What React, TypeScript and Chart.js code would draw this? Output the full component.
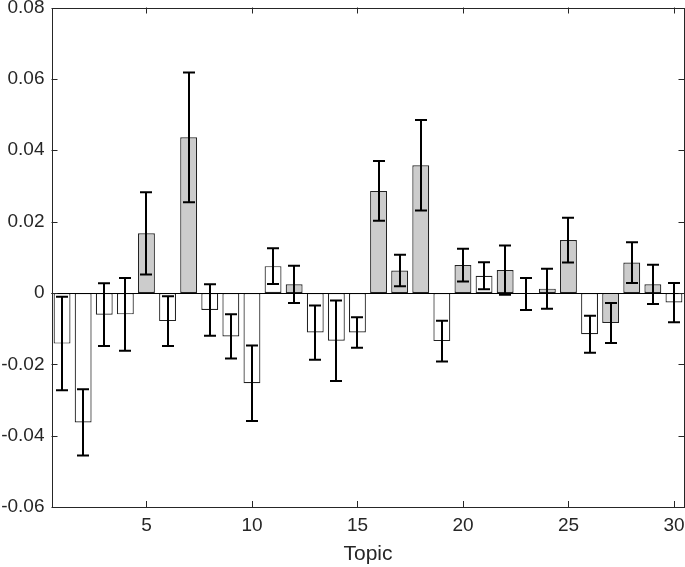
import React, { useEffect, useRef } from "react";
import { Chart, registerables } from "chart.js";

Chart.register(...registerables);

const topics = ["1","2","3","4","5","6","7","8","9","10","11","12","13","14","15","16","17","18","19","20","21","22","23","24","25","26","27","28","29","30"];
const meanValues = [-0.0142, -0.0363, -0.0061, -0.0060, 0.0167, -0.0079, 0.0436, -0.0048, -0.0122, -0.0253, 0.0075, 0.0024, -0.0111, -0.0134, -0.0111, 0.0286, 0.0063, 0.0358, -0.0135, 0.0078, 0.0048, 0.0064, -0.0003, 0.0012, 0.0148, -0.0116, -0.0084, 0.0085, 0.0024, -0.0027];
const errValues = [0.0131, 0.0093, 0.0088, 0.0102, 0.0115, 0.0070, 0.0182, 0.0072, 0.0062, 0.0106, 0.0050, 0.0052, 0.0076, 0.0113, 0.0043, 0.0084, 0.0044, 0.0127, 0.0057, 0.0046, 0.0038, 0.0069, 0.0045, 0.0056, 0.0063, 0.0052, 0.0056, 0.0057, 0.0055, 0.0055];
const highlighted = [0,0,0,0,1,0,1,0,0,0,0,1,0,0,0,1,1,1,0,1,0,1,0,1,1,0,1,1,1,0];
const xTickLabels = ["5","10","15","20","25","30"];
const yMin = -0.06;
const yMax = 0.08;
const yStep = 0.02;

const AXIS_COLOR = "#262626";
const FONT = "'Liberation Sans', Arial, Helvetica, sans-serif";

const matlabPlugin = {
  id: "matlabAxes",
  afterDatasetsDraw(chart: any) {
    const { ctx, chartArea, scales } = chart;
    const xs = scales.x;
    const ys = scales.y;
    const { left, right, top, bottom } = chartArea;
    ctx.save();
    const y0 = ys.getPixelForValue(0);
    ctx.strokeStyle = "#000";
    ctx.lineWidth = 1;
    ctx.beginPath();
    ctx.moveTo(left, Math.round(y0) + 0.5);
    ctx.lineTo(right, Math.round(y0) + 0.5);
    ctx.stroke();

    ctx.strokeStyle = "#000";
    ctx.lineWidth = 2;
    const cap = 6;
    meanValues.forEach((v, i) => {
      const x = Math.round(xs.getPixelForValue(i));
      const yHi = ys.getPixelForValue(v + errValues[i]);
      const yLo = ys.getPixelForValue(v - errValues[i]);
      ctx.beginPath();
      ctx.moveTo(x, yHi);
      ctx.lineTo(x, yLo);
      ctx.moveTo(x - cap, yHi);
      ctx.lineTo(x + cap, yHi);
      ctx.moveTo(x - cap, yLo);
      ctx.lineTo(x + cap, yLo);
      ctx.stroke();
    });

    ctx.strokeStyle = AXIS_COLOR;
    ctx.lineWidth = 1;
    ctx.strokeRect(Math.round(left) + 0.5, Math.round(top) + 0.5, Math.round(right) - Math.round(left) - 1, Math.round(bottom) - Math.round(top));

    const tl = 6;
    ctx.beginPath();
    ys.ticks.forEach((t: any) => {
      const y = Math.round(ys.getPixelForValue(t.value)) + 0.5;
      ctx.moveTo(left, y);
      ctx.lineTo(left + tl, y);
      ctx.moveTo(right, y);
      ctx.lineTo(right - tl, y);
    });
    topics.forEach((lab, i) => {
      if (xTickLabels.indexOf(lab) < 0) return;
      const x = Math.round(xs.getPixelForValue(i)) + 0.5;
      ctx.moveTo(x, bottom);
      ctx.lineTo(x, bottom - tl);
      ctx.moveTo(x, top);
      ctx.lineTo(x, top + tl);
    });
    ctx.stroke();
    ctx.restore();
  },
};

export default function App() {
  const canvasRef = useRef<HTMLCanvasElement | null>(null);

  useEffect(() => {
    document.body.style.margin = "0";
    const canvas = canvasRef.current;
    if (!canvas) return;
    const chart = new Chart(canvas, {
      type: "bar",
      data: {
        labels: topics,
        datasets: [
          {
            data: meanValues,
            backgroundColor: highlighted.map((h) => (h ? "#cccccc" : "#ffffff")),
            borderColor: "#222222",
            borderWidth: 1.2,
            borderSkipped: false,
            categoryPercentage: 1,
            barPercentage: 0.8,
          } as any,
        ],
      },
      options: {
        responsive: false,
        animation: false,
        devicePixelRatio: 1,
        layout: { padding: { top: 7.5, right: 0.5, left: 0, bottom: 0 } },
        plugins: {
          legend: { display: false },
          tooltip: { enabled: false },
          title: { display: false },
        },
        scales: {
          x: {
            type: "category",
            offset: true,
            grid: { display: false, drawTicks: false },
            border: { display: false },
            ticks: {
              autoSkip: false,
              maxRotation: 0,
              minRotation: 0,
              padding: 9,
              color: AXIS_COLOR,
              font: { family: FONT, size: 19, lineHeight: 1 },
              callback: (_v: any, i: number) => (xTickLabels.indexOf(topics[i]) >= 0 ? topics[i] : ""),
            },
            title: {
              display: true,
              text: "Topic",
              color: AXIS_COLOR,
              font: { family: FONT, size: 21, lineHeight: 1.2 },
              padding: { top: 0, bottom: 0 },
            },
            afterFit: (axis: any) => {
              axis.height = 60;
              axis.paddingLeft = 0;
              axis.paddingRight = 0;
            },
          },
          y: {
            type: "linear",
            min: yMin,
            max: yMax,
            grid: { display: false, drawTicks: false },
            border: { display: false },
            ticks: {
              stepSize: yStep,
              padding: 7,
              color: AXIS_COLOR,
              font: { family: FONT, size: 19, lineHeight: 1 },
              callback: (v: any) => {
                const n = Number(v);
                if (Math.abs(n) < 1e-9) return "0";
                return n.toFixed(2);
              },
            },
            afterFit: (axis: any) => {
              axis.width = 51.5;
              axis.paddingTop = 0;
              axis.paddingBottom = 0;
            },
          },
        },
      } as any,
      plugins: [matlabPlugin],
    });
    return () => chart.destroy();
  }, []);

  return (
    <div style={{ position: "fixed", left: 0, top: 0, width: 685, height: 567, background: "#fff" }}>
      <canvas ref={canvasRef} width={685} height={567} style={{ display: "block", width: 685, height: 567 }} />
    </div>
  );
}
